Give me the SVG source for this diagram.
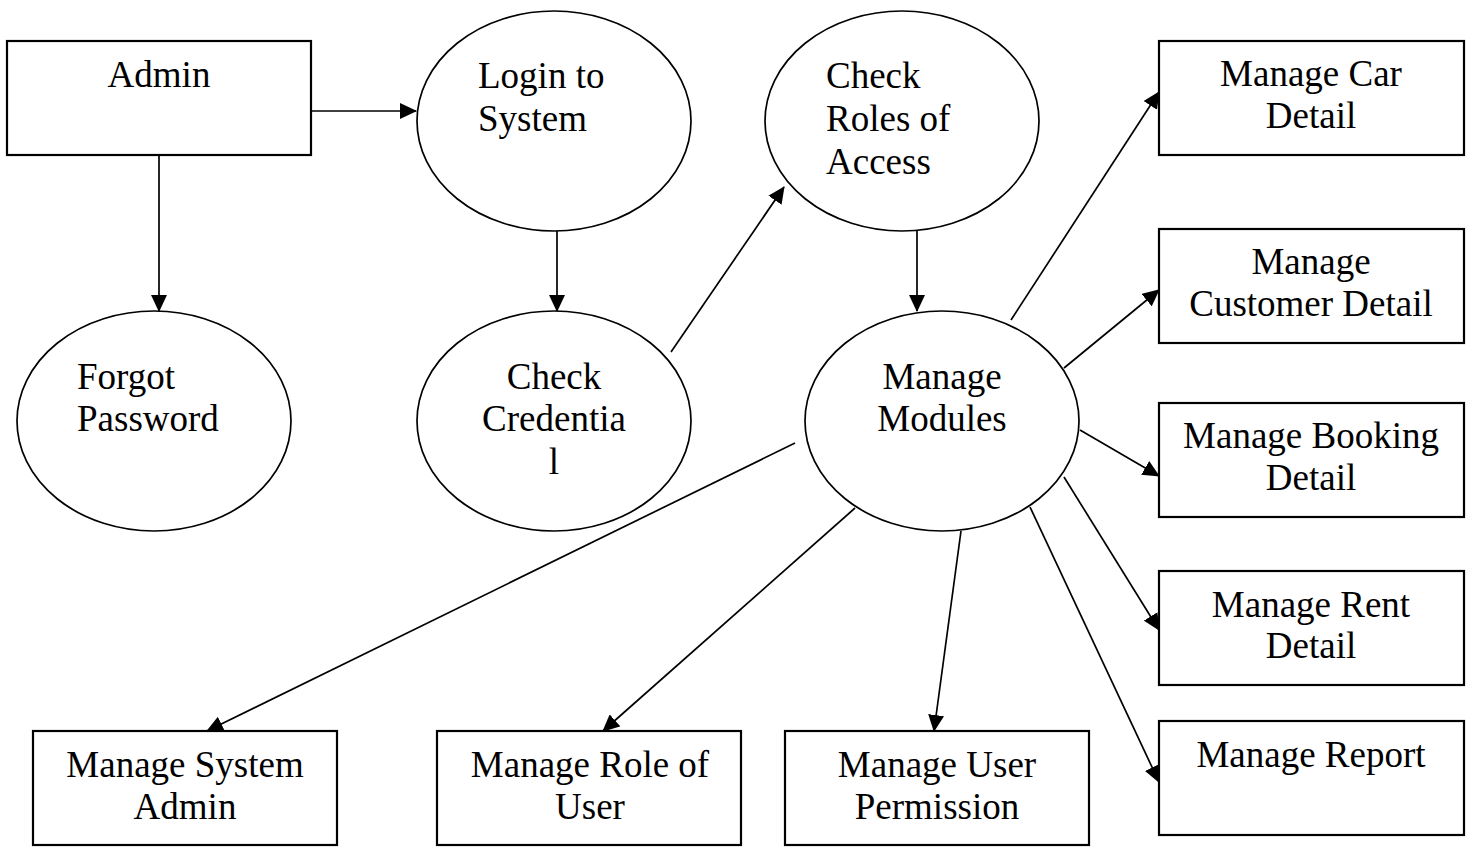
<svg xmlns="http://www.w3.org/2000/svg" width="1470" height="848" viewBox="0 0 1470 848">
<defs>
<style>
.box{fill:#fff;stroke:#000;stroke-width:2.2}
.ell{fill:#fff;stroke:#000;stroke-width:1.7}
.t{font-family:"Liberation Serif","Times New Roman",serif;font-size:37px;fill:#000}
.c{text-anchor:middle}
.edge{stroke:#000;stroke-width:1.7;fill:none;marker-end:url(#arr)}
</style>
<marker id="arr" markerUnits="userSpaceOnUse" markerWidth="17" markerHeight="16" refX="16" refY="8" orient="auto">
<path d="M0,0 L17,8 L0,16 z" fill="#000"/>
</marker>
</defs>
<rect width="1470" height="848" fill="#fff"/>
<g id="connectors">
<line class="edge" x1="311" y1="111" x2="416" y2="111"/>
<line class="edge" x1="159" y1="155" x2="159" y2="311"/>
<line class="edge" x1="557" y1="231" x2="557" y2="311"/>
<line class="edge" x1="671" y1="352" x2="784" y2="187"/>
<line class="edge" x1="917" y1="231" x2="917" y2="311"/>
<line class="edge" x1="1011" y1="320" x2="1159" y2="92"/>
<line class="edge" x1="1064" y1="368" x2="1159" y2="290"/>
<line class="edge" x1="1080" y1="430" x2="1159" y2="476"/>
<line class="edge" x1="1064" y1="477" x2="1159" y2="630"/>
<line class="edge" x1="1030" y1="507" x2="1159" y2="782"/>
<line class="edge" x1="961" y1="531" x2="934" y2="731"/>
<line class="edge" x1="855" y1="508" x2="603" y2="731"/>
<line class="edge" x1="795" y1="443" x2="207" y2="731"/>
</g>
<g id="admin">
<rect class="box" x="7" y="41" width="304" height="114"/>
<text class="t c" x="159" y="87">Admin</text>
</g>
<g id="login">
<ellipse class="ell" cx="554" cy="121" rx="137" ry="110"/>
<text class="t" x="478" y="88">Login to</text>
<text class="t" x="478" y="131">System</text>
</g>
<g id="forgot">
<ellipse class="ell" cx="154" cy="421" rx="137" ry="110"/>
<text class="t" x="77" y="389">Forgot</text>
<text class="t" x="77" y="431">Password</text>
</g>
<g id="credential">
<ellipse class="ell" cx="554" cy="421" rx="137" ry="110"/>
<text class="t c" x="554" y="389">Check</text>
<text class="t c" x="554" y="431">Credentia</text>
<text class="t c" x="554" y="474">l</text>
</g>
<g id="roles">
<ellipse class="ell" cx="902" cy="121" rx="137" ry="110"/>
<text class="t" x="826" y="88">Check</text>
<text class="t" x="826" y="131">Roles of</text>
<text class="t" x="826" y="174">Access</text>
</g>
<g id="modules">
<ellipse class="ell" cx="942" cy="421" rx="137" ry="110"/>
<text class="t c" x="942" y="389">Manage</text>
<text class="t c" x="942" y="431">Modules</text>
</g>
<g id="car">
<rect class="box" x="1159" y="41" width="305" height="114"/>
<text class="t c" x="1311" y="86">Manage Car</text>
<text class="t c" x="1311" y="128">Detail</text>
</g>
<g id="customer">
<rect class="box" x="1159" y="229" width="305" height="114"/>
<text class="t c" x="1311" y="274">Manage</text>
<text class="t c" x="1311" y="316">Customer Detail</text>
</g>
<g id="booking">
<rect class="box" x="1159" y="403" width="305" height="114"/>
<text class="t c" x="1311" y="448">Manage Booking</text>
<text class="t c" x="1311" y="490">Detail</text>
</g>
<g id="rent">
<rect class="box" x="1159" y="571" width="305" height="114"/>
<text class="t c" x="1311" y="617">Manage Rent</text>
<text class="t c" x="1311" y="658">Detail</text>
</g>
<g id="report">
<rect class="box" x="1159" y="721" width="305" height="114"/>
<text class="t c" x="1311" y="767">Manage Report</text>
</g>
<g id="sysadmin">
<rect class="box" x="33" y="731" width="304" height="114"/>
<text class="t c" x="185" y="777">Manage System</text>
<text class="t c" x="185" y="819">Admin</text>
</g>
<g id="roleuser">
<rect class="box" x="437" y="731" width="304" height="114"/>
<text class="t c" x="590" y="777">Manage Role of</text>
<text class="t c" x="590" y="819">User</text>
</g>
<g id="permission">
<rect class="box" x="785" y="731" width="304" height="114"/>
<text class="t c" x="937" y="777">Manage User</text>
<text class="t c" x="937" y="819">Permission</text>
</g>
</svg>
